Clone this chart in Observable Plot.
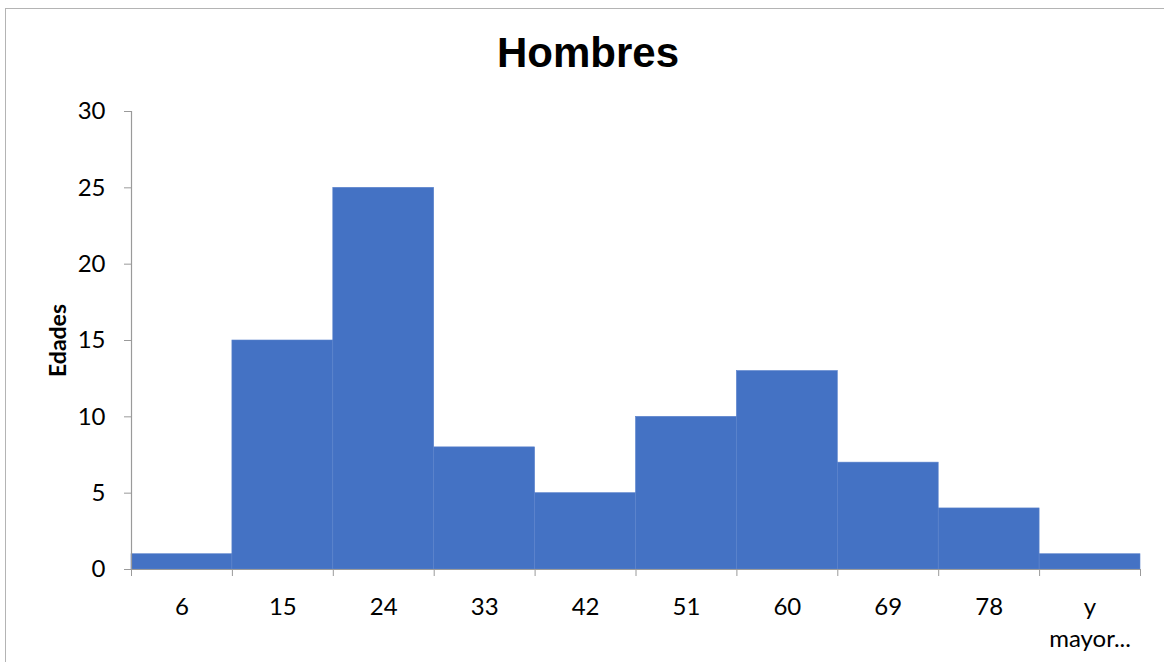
<!DOCTYPE html>
<html>
<head>
<meta charset="utf-8">
<script src="https://cdn.jsdelivr.net/npm/d3@7"></script>
<script src="https://cdn.jsdelivr.net/npm/@observablehq/plot@0.6"></script>
<style>
  html, body { margin: 0; padding: 0; background: #fff; }
  #wrap { position: relative; width: 1164px; height: 662px; overflow: hidden; }
  #frame { position: absolute; left: 5px; top: 8px; width: 1200px; height: 700px;
           border-left: 1.5px solid #b4b4b4; border-top: 1.5px solid #b4b4b4; box-sizing: border-box; }
  #title { position: absolute; left: 0; width: 1176px; top: 29px; text-align: center;
           font: bold 42px "Liberation Sans", Arial, sans-serif; color: #000; line-height: 48px; }
  #chart { position: absolute; left: 0; top: 0; }
</style>
</head>
<body>
<div id="wrap">
  <div id="frame"></div>
  <div id="title">Hombres</div>
  <div id="chart"></div>
</div>
<script>
const categories = ["6", "15", "24", "33", "42", "51", "60", "69", "78", "y\nmayor..."];
const values = [1, 15, 25, 8, 5, 10, 13, 7, 4, 1];
const yTicks = [0, 5, 10, 15, 20, 25, 30];
const yLabel = "Edades";

const data = categories.map((c, i) => ({cat: c, i, value: values[i]}));
const centers = categories.map((c, i) => i + 0.5);
const bounds = d3.range(categories.length + 1);

const axisColor = "#9a9a9a";
const font = "Lato, 'Open Sans', sans-serif";

const chart = Plot.plot({
  width: 1164,
  height: 662,
  marginLeft: 131,
  marginRight: 24,
  marginTop: 111,
  marginBottom: 93,
  style: {fontFamily: font, fontSize: "24px", color: "#000", background: "transparent"},
  x: {type: "linear", domain: [0, categories.length]},
  y: {domain: [0, 30]},
  marks: [
    Plot.rectY(data, {x1: "i", x2: d => d.i + 1, y: "value", fill: "#4472C4", stroke: "#5a82cc", strokeWidth: 0.6}),
    Plot.ruleX([0], {stroke: axisColor, strokeWidth: 1.2}),
    Plot.ruleY([0], {stroke: axisColor, strokeWidth: 1.2}),
    Plot.axisY({ticks: yTicks, tickSize: 7, tickPadding: 19, stroke: axisColor, label: null, fontSize: 24, fill: "#000"}),
    Plot.axisX({ticks: bounds, tickSize: 7, tickFormat: () => "", stroke: axisColor, label: null}),
    Plot.axisX({ticks: centers, tickSize: 0, tickPadding: 22, tickFormat: v => categories[Math.round(v - 0.5)], label: null, fontSize: 24, lineHeight: 1.35, fill: "#000"}),
    Plot.text([yLabel], {frameAnchor: "left", dx: -73, rotate: -90, textAnchor: "middle", fontWeight: "bold", fontSize: 23, fill: "#000", text: d => d})
  ]
});
document.getElementById("chart").appendChild(chart);
</script>
</body>
</html>
